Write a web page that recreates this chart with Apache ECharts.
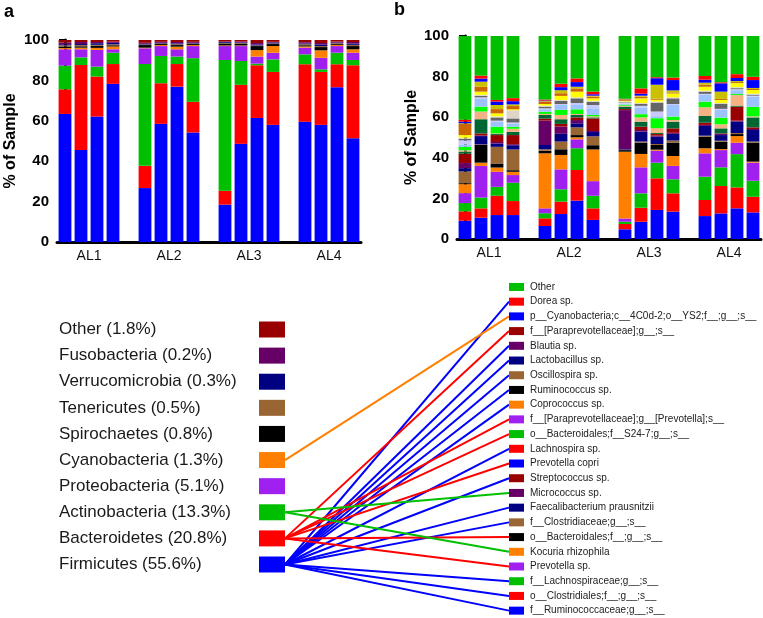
<!DOCTYPE html>
<html><head><meta charset="utf-8">
<script src="https://cdn.jsdelivr.net/npm/echarts@6/dist/echarts.min.js"></script>
<style>html,body{margin:0;padding:0;background:#fff}#c{width:763px;height:618px}</style>
</head><body><div id="c"></div>
<script>
// ---------- DATA ----------
const groups = ['AL1', 'AL2', 'AL3', 'AL4'];
const yTicks = [0, 20, 40, 60, 80, 100];

// Panel a: phyla, stack order bottom -> top
const phyla = ['Firmicutes', 'Bacteroidetes', 'Actinobacteria', 'Proteobacteria', 'Cyanobacteria',
  'Spirochaetes', 'Tenericutes', 'Verrucomicrobia', 'Fusobacteria', 'Other'];
const phylaPct = [55.6, 20.8, 13.3, 5.1, 1.3, 0.8, 0.5, 0.3, 0.2, 1.8];

// one row per sample (4 samples per group), values in phyla order
const phylaAL1 = [[63.4,12.2,11.7,8.1,0.6,0.8,0.6,0.5,0.9,1.2],[45.6,42.0,3.8,4.0,0.8,0.7,0.6,0.5,1.0,1.0],[62.1,19.8,4.9,8.3,1.0,1.0,0.5,0.8,0.6,1.0],[78.3,9.8,5.6,1.7,1.4,0.6,0.5,0.7,0.6,0.8]];
const phylaAL2 = [[26.7,11.0,50.4,7.8,0.3,1.3,0.3,0.3,0.5,1.4],[58.5,20.1,13.5,4.9,0.5,0.5,0.3,0.3,0.5,0.9],[76.9,11.2,3.7,3.6,1.3,0.8,0.4,0.4,0.7,1.0],[54.2,15.2,21.6,6.0,0.5,0.5,0.3,0.3,0.5,0.9]];
const phylaAL3 = [[18.5,6.9,64.7,6.9,0.3,1.0,0.3,0.4,0.3,0.7],[48.6,29.2,11.8,7.4,0.3,0.8,0.3,0.4,0.4,0.8],[61.4,26.1,0.8,3.5,3.2,2.0,0.3,0.5,0.7,1.5],[58.0,26.2,6.2,3.3,3.3,1.0,0.3,0.4,0.4,0.9]];
const phylaAL4 = [[59.5,28.5,4.9,3.3,0.6,0.6,0.5,0.4,0.6,1.1],[58.0,26.2,1.3,5.7,3.7,1.6,0.5,0.8,0.7,1.5],[76.6,11.4,5.7,3.3,0.6,0.5,0.3,0.3,0.5,0.8],[51.4,36.1,2.6,3.6,1.7,1.6,0.6,0.6,0.8,1.0]];

// Panel b: species, stack order bottom -> top
const species = ['f__Ruminococcaceae;g__;s__', 'o__Clostridiales;f__;g__;s__', 'f__Lachnospiraceae;g__;s__',
  'Prevotella sp.', 'Kocuria rhizophila', 'o__Bacteroidales;f__;g__;s__', 'f__Clostridiaceae;g__;s__',
  'Faecalibacterium prausnitzii', 'Micrococcus sp.', 'Streptococcus sp.', 'Prevotella copri', 'Lachnospira sp.',
  'o__Bacteroidales;f__S24-7;g__;s__', 'f__[Paraprevotellaceae];g__[Prevotella];s__', 'Coprococcus sp.',
  'Ruminococcus sp.', 'Oscillospira sp.', 'Lactobacillus sp.', 'Blautia sp.', 'f__[Paraprevotellaceae];g__;s__',
  'p__Cyanobacteria;c__4C0d-2;o__YS2;f__;g__;s__', 'Dorea sp.', 'Other'];
const speciesPhylum = ['Firmicutes', 'Firmicutes', 'Firmicutes', 'Bacteroidetes', 'Actinobacteria', 'Bacteroidetes',
  'Firmicutes', 'Firmicutes', 'Actinobacteria', 'Firmicutes', 'Bacteroidetes', 'Firmicutes', 'Bacteroidetes',
  'Bacteroidetes', 'Firmicutes', 'Firmicutes', 'Firmicutes', 'Firmicutes', 'Firmicutes', 'Bacteroidetes',
  'Cyanobacteria', 'Firmicutes', null];

const speciesAL1 = [
  [9.0,4.6,4.1,4.9,4.4,0.5,5.8,1.6,2.5,4.6,1.1,0.6,1.7,1.2,2.0,0.8,0.5,1.3,5.5,0.3,0.8,1.0,41.2],
  [10.5,4.6,5.3,15.6,1.6,8.7,0.3,4.1,0.3,1.0,7.0,3.8,2.4,4.1,0.5,0.7,0.5,1.6,2.4,2.5,1.5,1.5,19.5],
  [11.8,9.5,4.4,7.4,2.1,2.0,8.2,1.6,0.8,3.4,0.5,0.3,3.3,2.5,0.5,1.6,0.5,1.5,2.1,2.0,1.7,0.8,31.5],
  [11.8,6.9,9.0,3.8,1.6,0.8,10.2,2.1,0.5,4.5,1.6,1.5,1.0,1.6,0.5,2.0,4.0,0.5,1.6,0.8,1.6,1.5,30.6]];
const speciesAL2 = [
  [6.4,3.8,2.5,2.4,27.1,1.3,0.7,2.1,12.0,1.0,1.8,0.5,1.1,1.2,0.5,0.8,0.5,0.8,1.1,0.3,0.3,0.5,31.3],
  [12.3,6.1,6.1,9.8,7.1,2.8,3.8,3.8,3.6,1.3,2.3,2.1,2.5,2.4,0.5,1.5,0.5,2.0,1.3,1.5,1.5,1.7,23.5],
  [18.9,15.1,10.7,4.4,1.0,1.1,3.8,2.0,1.6,1.3,1.2,0.5,2.3,2.1,1.0,2.3,0.5,2.8,1.6,0.8,2.3,1.8,20.9],
  [9.4,5.7,6.2,7.2,15.6,2.1,4.4,2.1,0.5,6.2,0.5,0.5,0.7,3.3,1.6,1.6,0.5,1.2,0.8,0.5,0.7,1.3,27.4]];
const speciesAL3 = [
  [4.8,2.6,1.1,1.6,32.9,0.8,0.2,0.3,19.2,0.5,1.2,0.5,0.5,0.5,0.3,0.3,0.5,0.3,0.5,0.2,0.1,0.2,30.9],
  [8.5,6.9,7.1,12.8,6.6,5.6,0.5,4.9,0.8,1.6,2.5,2.1,1.6,3.3,0.8,0.9,0.5,2.3,0.8,0.5,1.0,2.6,25.8],
  [14.3,15.6,7.7,5.9,0.5,2.3,0.5,3.6,0.5,0.8,0.5,2.4,4.9,1.0,2.3,4.4,0.5,0.9,0.5,6.9,3.2,0.5,20.3],
  [13.5,9.0,6.9,6.6,4.9,6.6,1.0,3.3,0.5,2.2,3.3,0.8,1.7,5.7,0.5,2.8,0.5,1.9,0.5,1.0,5.1,1.2,20.5]];
const speciesAL4 = [
  [11.3,7.9,11.5,11.5,2.5,5.7,0.5,4.8,0.5,1.1,3.3,4.3,2.8,3.3,0.5,1.1,0.5,1.9,1.0,1.0,1.5,1.8,19.7],
  [12.6,13.5,9.2,8.5,0.5,3.6,0.5,2.8,0.5,0.3,2.5,2.0,3.3,3.8,0.5,2.4,0.5,1.5,0.5,3.6,4.1,0.5,22.8],
  [15.1,10.3,16.4,5.6,3.3,1.0,0.5,5.6,0.5,6.9,0.5,5.2,0.5,1.9,0.5,0.5,0.5,2.0,0.5,0.5,1.5,1.9,18.8],
  [13.1,7.7,7.9,8.9,0.5,9.4,0.5,5.7,0.5,0.8,4.9,0.5,4.7,5.0,0.5,0.5,0.5,1.8,0.5,0.5,3.9,1.6,20.1]];

// ---------- STYLES ----------
const FONT = 'Arial, "Liberation Sans", Helvetica, sans-serif';
const base10 = ['#0000ff', '#ff0000', '#00bf00', '#a020f0', '#ff8000', '#000000', '#996633', '#000080', '#660066', '#990000'];
const phylaColors = base10;
const speciesBarColors = base10.concat(['#006633', '#f4b183', '#00ff00', '#9dc3ff', '#c9c9ff', '#666666',
  '#ddd6c8', '#ffff00', '#cc6600', '#c8c000', '#0000ff', '#ff0000', '#00bf00']);

const phylaByGroup = [phylaAL1, phylaAL2, phylaAL3, phylaAL4];
const speciesByGroup = [speciesAL1, speciesAL2, speciesAL3, speciesAL4];

// slots: 4 samples per group, one empty slot between groups
const slots = [];
groups.forEach((g, gi) => {
  for (let k = 1; k <= 4; k++) slots.push(g + '-' + k);
  if (gi < groups.length - 1) slots.push('gap' + gi);
});
const labelPos = groups.map((g, i) => i * 5 + 1.5);

function column(byGroup, idx) {
  const out = [];
  byGroup.forEach((rows, gi) => {
    rows.forEach(r => out.push(r[idx]));
    if (gi < byGroup.length - 1) out.push(null);
  });
  return out;
}

const chart = echarts.init(document.getElementById('c'), null, { renderer: 'canvas' });

function catX(gridIndex) {
  return {
    type: 'category', gridIndex, data: slots, boundaryGap: true,
    axisLine: { show: true, lineStyle: { color: '#000', width: 3 } },
    axisTick: { show: false }, axisLabel: { show: false }, splitLine: { show: false }
  };
}
function labelX(gridIndex) {
  return {
    type: 'value', gridIndex, min: -0.5, max: 18.5, position: 'bottom',
    axisLine: { show: false }, axisTick: { show: false }, splitLine: { show: false },
    axisLabel: {
      customValues: labelPos, margin: 7, color: '#111', fontSize: 14, fontFamily: FONT,
      formatter: v => groups[labelPos.indexOf(v)] || ''
    }
  };
}
function valY(gridIndex, gap) {
  return {
    type: 'value', gridIndex, min: 0, max: 100, interval: 20,
    name: '% of Sample', nameLocation: 'middle', nameGap: gap,
    nameTextStyle: { fontWeight: 'bold', fontSize: 16, color: '#000', fontFamily: FONT },
    axisLine: { show: true, lineStyle: { color: '#000', width: 3 } },
    axisTick: { show: true, length: 6, lineStyle: { color: '#000', width: 3 } },
    axisLabel: { color: '#000', fontWeight: 'bold', fontSize: 15, margin: 8, fontFamily: FONT,
      customValues: yTicks },
    splitLine: { show: false }
  };
}

const legendRows = phyla.slice().reverse();           // top -> bottom
const speciesRows = species.slice().reverse();        // top -> bottom

const series = [];
phyla.forEach((p, i) => series.push({
  type: 'bar', name: p, stack: 'a', xAxisIndex: 0, yAxisIndex: 0,
  barCategoryGap: '20%', itemStyle: { color: phylaColors[i] },
  data: column(phylaByGroup, i), silent: true
}));
species.forEach((s, i) => series.push({
  type: 'bar', name: s, stack: 'b', xAxisIndex: 2, yAxisIndex: 1,
  barCategoryGap: '20%', itemStyle: { color: speciesBarColors[i] },
  data: column(speciesByGroup, i), silent: true
}));
// phylum legend squares
series.push({
  type: 'scatter', xAxisIndex: 4, yAxisIndex: 2, symbol: 'rect', symbolSize: [26, 16], silent: true,
  data: legendRows.map((p, i) => ({ value: [0.5, i], itemStyle: { color: phylaColors[phyla.indexOf(p)], opacity: 1 } })),
  z: 5
});
// species legend squares
series.push({
  type: 'scatter', xAxisIndex: 5, yAxisIndex: 3, symbol: 'rect', symbolSize: [15, 8], silent: true,
  data: speciesRows.map((s, i) => ({ value: [0.5, i],
    itemStyle: { color: base10[species.indexOf(s) % 10], opacity: 1 } })),
  z: 5
});

const option = {
  animation: false,
  backgroundColor: '#fff',
  textStyle: { fontFamily: FONT },
  grid: [
    { left: 57, top: 40, width: 304, height: 202 },
    { left: 457, top: 36, width: 304, height: 203 },
    { left: 259, top: 316.45, width: 26, height: 261.1 },
    { left: 509, top: 279.6, width: 15, height: 339.25 }
  ],
  xAxis: [
    catX(0), labelX(0), catX(1), labelX(1),
    { type: 'value', gridIndex: 2, min: 0, max: 1, show: false },
    { type: 'value', gridIndex: 3, min: 0, max: 1, show: false }
  ],
  yAxis: [
    valY(0, 38), valY(1, 31),
    { type: 'category', gridIndex: 2, data: legendRows, inverse: true,
      axisLine: { show: false }, axisTick: { show: false }, splitLine: { show: false },
      axisLabel: { interval: 0, align: 'left', margin: 200, fontSize: 17, color: '#1a1a1a', fontFamily: FONT,
        formatter: v => v + ' (' + phylaPct[phyla.indexOf(v)] + '%)' } },
    { type: 'category', gridIndex: 3, data: speciesRows, inverse: true, position: 'right',
      axisLine: { show: false }, axisTick: { show: false }, splitLine: { show: false },
      axisLabel: { interval: 0, align: 'left', margin: 6, fontSize: 10, color: '#222', fontFamily: FONT } }
  ],
  series,
  graphic: [
    { type: 'text', left: 4, top: 3, style: { text: 'a', font: 'bold 18px ' + FONT, fill: '#000' } },
    { type: 'text', left: 394, top: 1, style: { text: 'b', font: 'bold 18px ' + FONT, fill: '#000' } }
  ]
};
chart.setOption(option);

// connecting lines: phylum square (right edge) -> species square (left edge), via the axes
const lines = [];
speciesRows.forEach((s, j) => {
  const ph = speciesPhylum[species.indexOf(s)];
  if (!ph) return;
  const a = chart.convertToPixel({ gridIndex: 2 }, [1, legendRows.indexOf(ph)]);
  const b = chart.convertToPixel({ gridIndex: 3 }, [0, j]);
  lines.push({
    type: 'line', z: 1, silent: true,
    shape: { x1: a[0], y1: a[1], x2: b[0], y2: b[1] },
    style: { stroke: phylaColors[phyla.indexOf(ph)], lineWidth: 2 }
  });
});
chart.setOption({ graphic: option.graphic.concat(lines) });
</script></body></html>
